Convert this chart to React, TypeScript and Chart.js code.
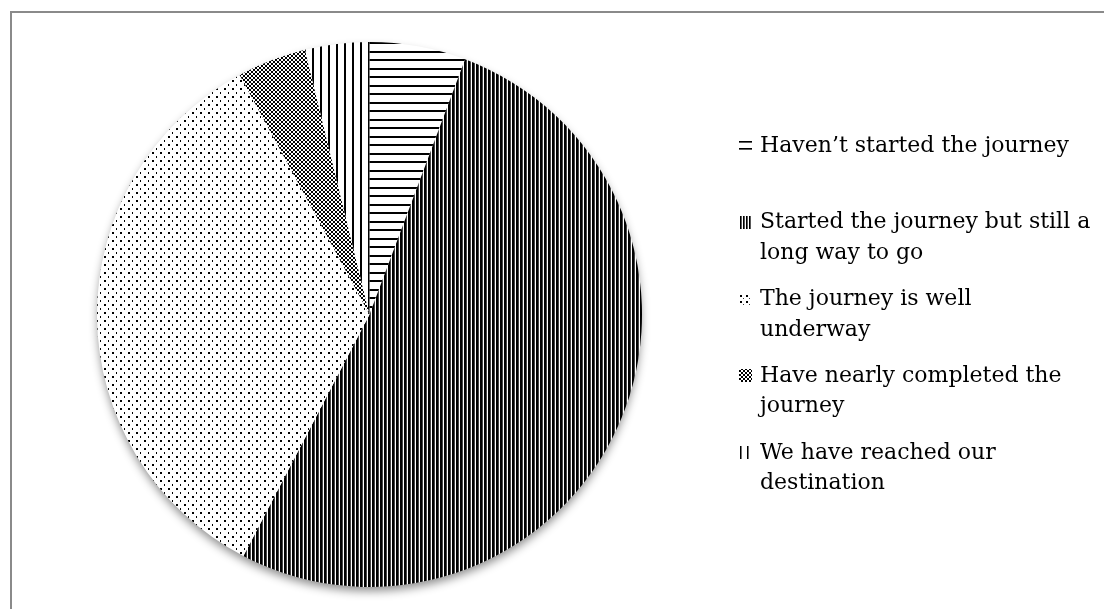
import React, { useEffect, useRef } from "react";
import { Chart, registerables } from "chart.js";

Chart.register(...registerables);

const legendLines: string[][] = [
  ["Haven’t started the journey"],
  ["Started the journey but still a", "long way to go"],
  ["The journey is well", "underway"],
  ["Have nearly completed the", "journey"],
  ["We have reached our", "destination"],
];
const categories: string[] = legendLines.map((l) => l.join(" "));
const shares: number[] = [5.7, 51.9, 34.4, 4.1, 3.8];
const patternKinds: string[] = ["hlines", "vdense", "dots", "cross", "vsparse"];

function makePattern(ctx: CanvasRenderingContext2D, kind: string, small = false): CanvasPattern {
  let w = 8;
  let h = 8;
  if (kind === "hlines") { w = 4; h = small ? 7 : 17; }
  if (kind === "vdense") { w = small ? 3 : 4; h = 4; }
  if (kind === "vsparse") { w = small ? 7 : 8; h = 4; }
  if (kind === "dots") { w = small ? 6 : 8; h = small ? 6 : 8; }
  if (kind === "cross") { w = 4; h = 4; }
  const c = document.createElement("canvas");
  c.width = w;
  c.height = h;
  const g = c.getContext("2d") as CanvasRenderingContext2D;
  const img = g.createImageData(w, h);
  const set = (x: number, y: number, v: number) => {
    const i = (y * w + x) * 4;
    img.data[i] = v; img.data[i + 1] = v; img.data[i + 2] = v; img.data[i + 3] = 255;
  };
  for (let y = 0; y < h; y++) for (let x = 0; x < w; x++) set(x, y, 255);
  if (kind === "hlines") {
    if (small) {
      for (let x = 0; x < w; x++) { set(x, 0, 0); set(x, 1, 90); }
    } else {
      for (let x = 0; x < w; x++) { set(x, 0, 0); set(x, 1, 0); set(x, 8, 0); set(x, 9, 0); }
    }
  } else if (kind === "vdense") {
    if (small) {
      for (let y = 0; y < h; y++) { set(0, y, 0); set(1, y, 90); }
    } else {
      for (let y = 0; y < h; y++) { set(0, y, 0); set(1, y, 0); set(2, y, 70); }
    }
  } else if (kind === "vsparse") {
    for (let y = 0; y < h; y++) { set(0, y, 0); set(1, y, small ? 120 : 0); }
  } else if (kind === "dots") {
    set(0, 0, 0); set(1, 0, 0); set(0, 1, 0); set(1, 1, 0);
    if (!small) { set(4, 4, 0); set(4, 5, 0); } else { set(3, 3, 60); }
  } else if (kind === "cross") {
    for (let k = 0; k < 4; k++) { set(k, k, 0); set(3 - k, k, 0); }
  }
  g.putImageData(img, 0, 0);
  return ctx.createPattern(c, "repeat") as CanvasPattern;
}

export default function App() {
  const ref = useRef<HTMLCanvasElement | null>(null);
  useEffect(() => {
    const canvas = ref.current;
    if (!canvas) return;
    const ctx = canvas.getContext("2d") as CanvasRenderingContext2D;
    const patterns = patternKinds.map((k) => makePattern(ctx, k));
    const markerPatterns = patternKinds.map((k) => makePattern(ctx, k, true));

    const shadowPlugin = {
      id: "pieShadow",
      beforeDatasetsDraw(chart: any) {
        const meta = chart.getDatasetMeta(0);
        const arc = meta.data[0];
        if (!arc) return;
        const c = chart.ctx as CanvasRenderingContext2D;
        c.save();
        c.shadowColor = "rgba(0,0,0,0.45)";
        c.shadowBlur = 10;
        c.shadowOffsetY = 5;
        c.beginPath();
        c.arc(arc.x, arc.y, arc.outerRadius - 1, 0, Math.PI * 2);
        c.fillStyle = "#ffffff";
        c.fill();
        c.restore();
      },
    };

    const legendPlugin = {
      id: "patternLegend",
      afterDraw(chart: any) {
        const c = chart.ctx as CanvasRenderingContext2D;
        c.save();
        c.font = "22px 'DejaVu Serif'";
        c.textBaseline = "middle";
        legendLines.forEach((lines, i) => {
          const y = 146 + i * 76.75;
          const bx = 739;
          const by = Math.round(y - 7);
          c.save();
          c.translate(bx + 1, by + 2);
          c.fillStyle = markerPatterns[i];
          c.fillRect(-1, -2, 13, 13);
          c.restore();
          c.fillStyle = "#000000";
          lines.forEach((ln, j) => c.fillText(ln, 760, y + j * 30.5));
        });
        c.restore();
      },
    };

    const chart = new Chart(canvas, {
      type: "pie",
      data: {
        labels: categories,
        datasets: [
          {
            data: shares,
            backgroundColor: patterns as any,
            borderWidth: 0,
          },
        ],
      },
      options: {
        responsive: false,
        maintainAspectRatio: false,
        animation: false,
        events: [],
        layout: { padding: { left: 97, right: 462, top: 42, bottom: 22 } },
        plugins: {
          legend: { display: false },
          tooltip: { enabled: false },
        },
      },
      plugins: [shadowPlugin, legendPlugin],
    });
    return () => chart.destroy();
  }, []);

  return (
    <div style={{ position: "fixed", left: 0, top: 0, width: 1104, height: 609, overflow: "hidden", background: "#ffffff" }}>
      <div
        style={{
          position: "absolute",
          left: 10,
          top: 11,
          width: 1200,
          height: 700,
          borderTop: "2px solid #8a8a8a",
          borderLeft: "2px solid #8a8a8a",
        }}
      />
      <canvas ref={ref} width={1104} height={609} style={{ position: "absolute", left: 0, top: 0 }} />
    </div>
  );
}
